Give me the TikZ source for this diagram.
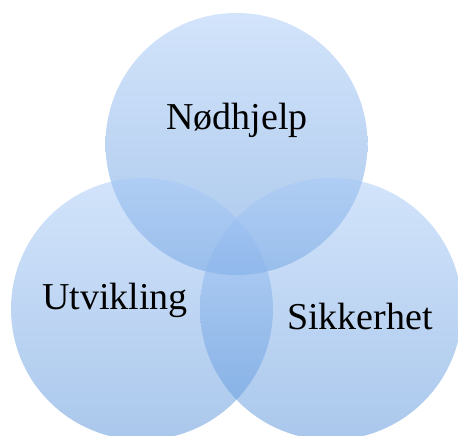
\documentclass[tikz,border=0pt]{standalone}
\usepackage{fontspec}
\setmainfont{Liberation Serif}
\definecolor{vennTop}{RGB}{167,201,247}
\definecolor{vennBot}{RGB}{85,145,217}
\tikzset{venn/.style={circle, minimum size=262pt, inner sep=0pt, top color=vennTop, bottom color=vennBot, fill opacity=0.5},
  vennlabel/.style={anchor=base, font=\fontsize{38}{46}\selectfont}}
\newcommand{\VennCircle}[2]{\node[venn] (#1) at (#2) {};}

\begin{document}
\begin{tikzpicture}[x=1pt,y=1pt]
\useasboundingbox (0,0) rectangle (458,436);
\clip (0,0) rectangle (458,436);
\VennCircle{noed}{236.5,292}
	\VennCircle{utv}{142,127}
	\VennCircle{sikk}{331,127}

	\node[vennlabel] (noedtext) at (237,306) {Nødhjelp};
	\node[vennlabel] (utvtext) at (115,126) {Utvikling};
	\node[vennlabel] (sikktext) at (360,106) {Sikkerhet};

\end{tikzpicture}
\end{document}
